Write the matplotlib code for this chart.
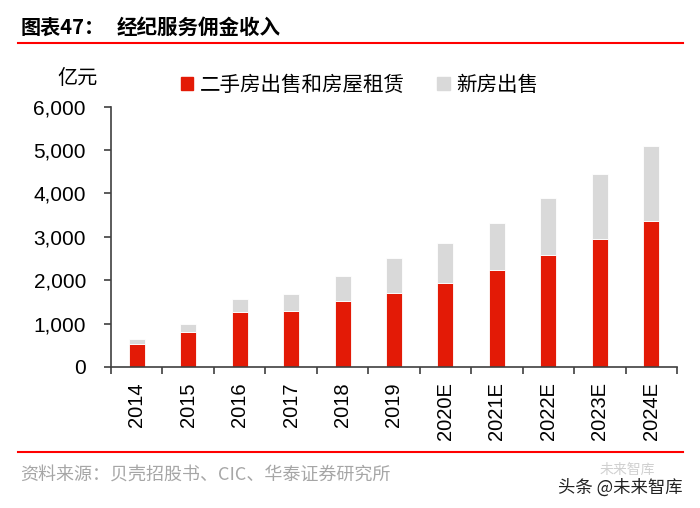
import numpy as np
import matplotlib
matplotlib.use("Agg")
import matplotlib.pyplot as plt
from matplotlib.patches import Patch
from matplotlib.lines import Line2D
from matplotlib.ticker import FuncFormatter

# data (亿元)
years = ["2014", "2015", "2016", "2017", "2018", "2019",
         "2020E", "2021E", "2022E", "2023E", "2024E"]
second_hand = [520, 810, 1270, 1290, 1515, 1695, 1925, 2230, 2580, 2955, 3355]
totals = [640, 980, 1560, 1690, 2100, 2515, 2855, 3330, 3890, 4460, 5085]
new_home = [t - s for t, s in zip(totals, second_hand)]

RED = "#E31A06"
GREY = "#D9D9D9"
CJK = ["Noto Sans CJK SC", "DejaVu Sans"]
LAT = ["Liberation Sans", "Noto Sans CJK SC"]

plt.rcParams["font.family"] = LAT

fig = plt.figure(figsize=(7, 5.08), dpi=100)
ax = fig.add_axes([111 / 700, 1 - 367 / 508, (677 - 111) / 700, (367 - 106.7) / 508])

x = np.arange(len(years))
ax.bar(x, second_hand, width=0.31, color=RED, edgecolor="white", linewidth=0.6,
       label="二手房出售和房屋租赁")
ax.bar(x, new_home, width=0.31, bottom=second_hand, color=GREY, edgecolor="white",
       linewidth=0.6, label="新房出售")

ax.set_xlim(-0.5, len(years) - 0.5)
ax.set_ylim(0, 6000)
ax.set_yticks(np.arange(0, 6001, 1000))
ax.yaxis.set_major_formatter(FuncFormatter(lambda v, p: f"{int(v):,}"))

# labels at the bar centres, tick marks between categories
ax.set_xticks(x)
ax.set_xticklabels(years, rotation=90, fontsize=14.5)
ax.set_xticks(np.arange(-0.5, len(years), 1), minor=True)
ax.tick_params(axis="x", which="major", length=0, pad=11)
ax.tick_params(axis="x", which="minor", length=5, width=1.2, color="#404040", direction="out")
ax.tick_params(axis="y", length=5, width=1.2, color="#404040", labelsize=15, pad=13)

for s in ["top", "right"]:
    ax.spines[s].set_visible(False)
for s in ["left", "bottom"]:
    ax.spines[s].set_color("#404040")
    ax.spines[s].set_linewidth(1.2)

# unit label
fig.text(57 / 700, 1 - 78 / 508, "亿元", family=CJK, fontsize=14.5, va="center", ha="left")

# legend
handles = [Patch(color=RED), Patch(color=GREY)]
fig.legend(handles, ["二手房出售和房屋租赁", "新房出售"], loc="center left",
           bbox_to_anchor=(181 / 700, 1 - 85 / 508), ncol=2, frameon=False,
           prop={"family": CJK, "size": 14.8}, handlelength=0.6, handleheight=0.6,
           handletextpad=0.3, columnspacing=1.6, borderpad=0, borderaxespad=0)

# title and header rule
fig.text(21 / 700, 1 - 27 / 508, "图表47：", family=CJK, fontsize=14.5, fontweight="bold",
         va="center", ha="left")
fig.text(117 / 700, 1 - 27 / 508, "经纪服务佣金收入", family=CJK, fontsize=14.8,
         fontweight="bold", va="center", ha="left")
fig.add_artist(Line2D([18 / 700, 683 / 700], [1 - 43 / 508] * 2, color="red", lw=1.5))

# footer rule and source
fig.add_artist(Line2D([18 / 700, 683 / 700], [1 - 451.5 / 508] * 2, color="red", lw=1.5))
fig.text(20 / 700, 1 - 475 / 508, "资料来源：贝壳招股书、CIC、华泰证券研究所", family=CJK,
         fontsize=13, color="#A6A6A6", va="center", ha="left")

# watermark
fig.text(600 / 700, 1 - 470 / 508, "未来智库", family=CJK, fontsize=10, color="#D0D0D0",
         va="center", ha="left")
fig.text(683 / 700, 1 - 488 / 508, "头条 @未来智库", family=CJK, fontsize=12.5,
         color="#222222", va="center", ha="right")

fig.savefig("out.png", dpi=100)
